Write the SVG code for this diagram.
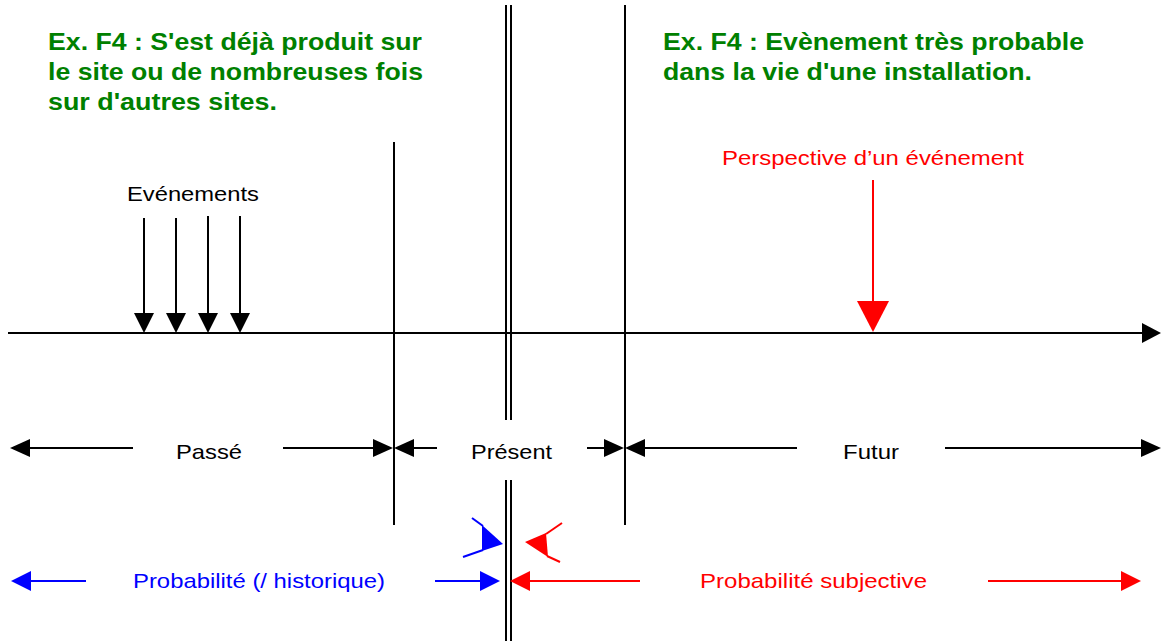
<svg xmlns="http://www.w3.org/2000/svg" width="1162" height="641" viewBox="0 0 1162 641">
<style>
.ln{stroke:#000;stroke-width:2;fill:none}
.hd{fill:#000}
.green{font-family:"Liberation Sans",Arial,sans-serif;font-weight:bold;font-size:24px;fill:#008000}
.lbl{font-family:"Liberation Sans",Arial,sans-serif;font-size:21px;fill:#000}
.blue{fill:#0000ff}
.red{fill:#ff0000}
</style>
<rect width="1162" height="641" fill="#fff"/>
<g id="note-past">
<text class="green" x="48" y="50" textLength="374" lengthAdjust="spacingAndGlyphs">Ex. F4 : S'est déjà produit sur</text>
<text class="green" x="48" y="80" textLength="375" lengthAdjust="spacingAndGlyphs">le site ou de nombreuses fois</text>
<text class="green" x="48" y="110" textLength="229" lengthAdjust="spacingAndGlyphs">sur d'autres sites.</text>
</g>
<g id="note-future">
<text class="green" x="663" y="50" textLength="421" lengthAdjust="spacingAndGlyphs">Ex. F4 : Evènement très probable</text>
<text class="green" x="663" y="80" textLength="369" lengthAdjust="spacingAndGlyphs">dans la vie d'une installation.</text>
</g>
<g id="separators">
<line class="ln" x1="394" y1="142" x2="394" y2="525"/>
<line class="ln" x1="625" y1="5" x2="625" y2="525"/>
<line class="ln" x1="506" y1="5" x2="506" y2="420"/>
<line class="ln" x1="511" y1="5" x2="511" y2="420"/>
<line class="ln" x1="506" y1="480" x2="506" y2="641"/>
<line class="ln" x1="511" y1="480" x2="511" y2="641"/>
</g>
<g id="events">
<text class="lbl" x="127" y="201" textLength="132" lengthAdjust="spacingAndGlyphs">Evénements</text>
</g>
<g id="perspective">
<text class="lbl red" x="722" y="165" textLength="302" lengthAdjust="spacingAndGlyphs">Perspective d’un événement</text>
</g>
<g id="passe"><text class="lbl" x="176" y="459" textLength="66" lengthAdjust="spacingAndGlyphs">Passé</text></g>
<g id="present"><text class="lbl" x="471" y="459" textLength="81" lengthAdjust="spacingAndGlyphs">Présent</text></g>
<g id="futur"><text class="lbl" x="843" y="459" textLength="56" lengthAdjust="spacingAndGlyphs">Futur</text></g>
<g id="prob-hist"><text class="lbl blue" x="133" y="588" textLength="252" lengthAdjust="spacingAndGlyphs">Probabilité (/ historique)</text></g>
<g id="prob-subj"><text class="lbl red" x="700" y="588" textLength="227" lengthAdjust="spacingAndGlyphs">Probabilité subjective</text></g>
<g id="connectors">
<!-- time axis -->
<line class="ln" x1="8" y1="333" x2="1145" y2="333"/>
<polygon class="hd" points="1142,323 1161,333 1142,343"/>
<!-- events -->
<line class="ln" x1="144" y1="218" x2="144" y2="315"/>
<polygon class="hd" points="134,313 154,313 144,333"/>
<line class="ln" x1="176" y1="218" x2="176" y2="315"/>
<polygon class="hd" points="166,313 186,313 176,333"/>
<line class="ln" x1="208" y1="216" x2="208" y2="315"/>
<polygon class="hd" points="198,313 218,313 208,333"/>
<line class="ln" x1="240" y1="216" x2="240" y2="315"/>
<polygon class="hd" points="230,313 250,313 240,333"/>
<!-- perspective -->
<line x1="873" y1="180" x2="873" y2="305" stroke="#ff0000" stroke-width="2"/>
<polygon class="red" points="857,301 889,301 873,332"/>
<!-- Passé -->
<line class="ln" x1="28" y1="448" x2="133" y2="448"/>
<polygon class="hd" points="10,448 30,439 30,457"/>
<line class="ln" x1="283" y1="448" x2="376" y2="448"/>
<polygon class="hd" points="393,448 373,439 373,457"/>
<!-- Présent -->
<polygon class="hd" points="394,448 414,439 414,457"/>
<line class="ln" x1="412" y1="448" x2="437" y2="448"/>
<line class="ln" x1="587" y1="448" x2="606" y2="448"/>
<polygon class="hd" points="624,448 604,439 604,457"/>
<!-- Futur -->
<polygon class="hd" points="625,448 645,439 645,457"/>
<line class="ln" x1="643" y1="448" x2="797" y2="448"/>
<line class="ln" x1="945" y1="448" x2="1144" y2="448"/>
<polygon class="hd" points="1161,448 1141,439 1141,457"/>
<!-- probability historic -->
<line x1="28" y1="581" x2="86" y2="581" stroke="#0000ff" stroke-width="2"/>
<polygon class="blue" points="11,581 31,571 31,591"/>
<line x1="435" y1="581" x2="482" y2="581" stroke="#0000ff" stroke-width="2"/>
<polygon class="blue" points="500,581 480,571 480,591"/>
<!-- probability subjective -->
<polygon class="red" points="510,581 530,571 530,591"/>
<line x1="528" y1="581" x2="640" y2="581" stroke="#ff0000" stroke-width="2"/>
<line x1="988" y1="581" x2="1124" y2="581" stroke="#ff0000" stroke-width="2"/>
<polygon class="red" points="1141,581 1121,571 1121,591"/>
<!-- small angled heads -->
<polygon class="blue" points="482,525 503,544 482,551"/>
<polyline points="472,518 483,526" stroke="#0000ff" stroke-width="2" fill="none"/>
<polyline points="483,550 463,557" stroke="#0000ff" stroke-width="2" fill="none"/>
<polygon class="red" points="525,542 546,533 548,557"/>
<polyline points="546,534 562,523" stroke="#ff0000" stroke-width="2" fill="none"/>
<polyline points="547,556 560,562" stroke="#ff0000" stroke-width="2" fill="none"/>
</g>
</svg>
